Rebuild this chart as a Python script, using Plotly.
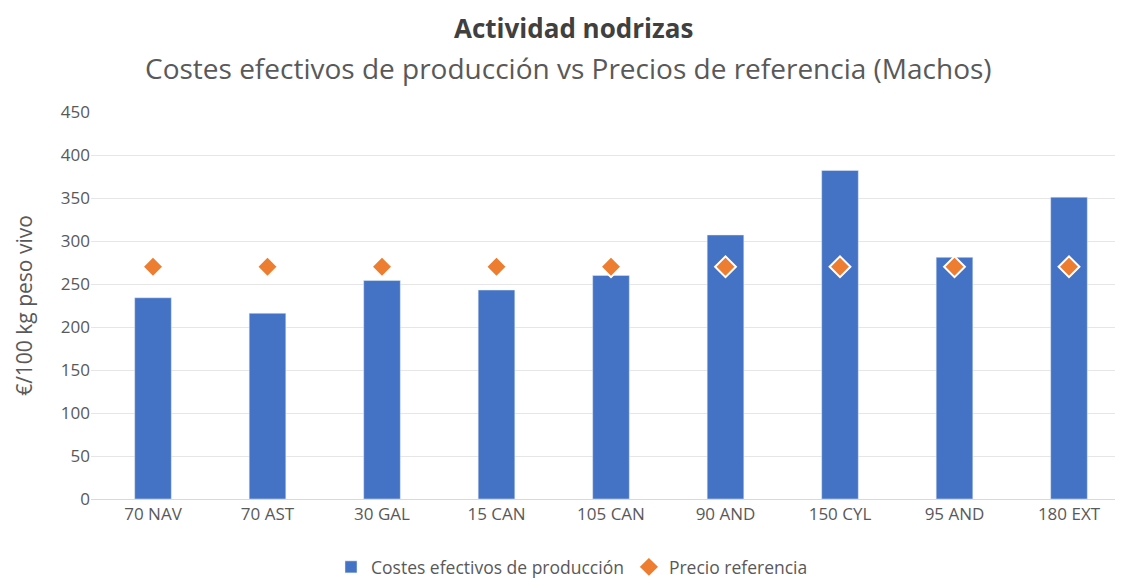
import plotly.graph_objects as go

categories = ["70 NAV", "70 AST", "30 GAL", "15 CAN", "105 CAN", "90 AND", "150 CYL", "95 AND", "180 EXT"]
costes = [234, 216, 254, 243, 260, 307, 382, 281, 351]
precio = [270, 270, 270, 270, 270, 270, 270, 270, 270]

FONT = "'Open Sans', sans-serif"
W, HT = 1123, 581
TOP, BOTTOM = 104, 491
H = BOTTOM - TOP
LEFT = 83

fig = go.Figure()
fig.add_trace(go.Bar(
    x=categories, y=costes, name="Costes efectivos de producción",
    marker=dict(color="#4472C4"),
))
fig.add_trace(go.Scatter(
    x=categories, y=precio, name="Precio referencia", mode="markers",
    marker=dict(symbol="diamond", size=16, color="#ED7D31", line=dict(color="white", width=2)),
))

fig.update_layout(
    width=W, height=HT,
    margin=dict(l=LEFT, r=0, t=TOP, b=HT - BOTTOM),
    paper_bgcolor="white", plot_bgcolor="white",
    font=dict(family=FONT, color="#595959", size=17),
    bargap=0.68,
    showlegend=True,
    legend=dict(orientation="h", x=(572 - 8) / W, xanchor="center", xref="container",
                y=(HT - 559) / HT, yanchor="middle", yref="container",
                font=dict(size=17.5, color="#595959"), itemwidth=30),
)
fig.add_annotation(text="<b>Actividad nodrizas</b>", xref="paper", yref="paper",
                   x=(565 - LEFT) / (W - LEFT), y=(BOTTOM - 20) / H, showarrow=False,
                   font=dict(size=26, color="#404040", family=FONT), yanchor="middle")
fig.add_annotation(text="Costes efectivos de producción vs Precios de referencia (Machos)",
                   xref="paper", yref="paper",
                   x=(560 - LEFT) / (W - LEFT), y=(BOTTOM - 60) / H, showarrow=False,
                   font=dict(size=28, color="#595959", family=FONT), yanchor="middle")

fig.update_xaxes(showgrid=False, showline=True, linecolor="#D9D9D9", linewidth=1,
                 ticks="", automargin=False, tickfont=dict(size=17, color="#595959"))
fig.update_yaxes(range=[0, 450], dtick=50, showgrid=True, gridcolor="#E6E6E6",
                 zeroline=False, showline=False, ticks="", automargin=False,
                 tickfont=dict(size=17, color="#595959"),
                 title=dict(text="€/100 kg peso vivo", font=dict(size=21, color="#595959"), standoff=22))

fig.write_html("out.html")
